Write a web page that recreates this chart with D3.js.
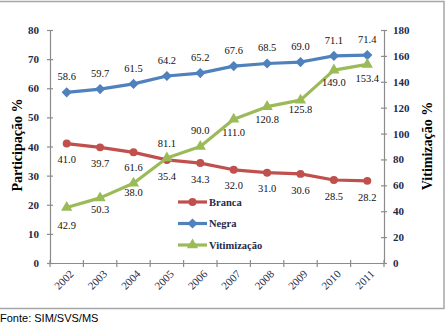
<!DOCTYPE html>
<html>
<head>
<meta charset="utf-8">
<script src="https://cdn.jsdelivr.net/npm/d3@7"></script>
<style>
  body { margin: 0; background: #fff; }
  svg { display: block; }
</style>
</head>
<body>
<div class="chart"></div>
<script>
const years = ["2002", "2003", "2004", "2005", "2006", "2007", "2008", "2009", "2010", "2011"];
const branca = [41.0, 39.7, 38.0, 35.4, 34.3, 32.0, 31.0, 30.6, 28.5, 28.2];
const negra = [58.6, 59.7, 61.5, 64.2, 65.2, 67.6, 68.5, 69.0, 71.1, 71.4];
const vitimizacao = [42.9, 50.3, 61.6, 81.1, 90.0, 111.0, 120.8, 125.8, 149.0, 153.4];
const leftTicks = [0, 10, 20, 30, 40, 50, 60, 70, 80];
const rightTicks = [0, 20, 40, 60, 80, 100, 120, 140, 160, 180];

// label offsets (layout only, as placed in the original)
const dyBranca = [16, 16, 40, 16, 16, 16, 16, 16, 16, 16];
const dyNegra = [-16, -16, -16, -16, -16, -16, -16, -16, -16, -16];
const dyVit = [18, 11, -16, -15, -16, 13, 13, 9, 12, 14];

var cfg = {
  width: 446,
  height: 328,
  left: 50, right: 384,
  top: 30, bottom: 263
};

var scale = {
  x: d3.scaleBand().domain(years).range([cfg.left, cfg.right]),
  yL: d3.scaleLinear().domain([0, 80]).range([cfg.bottom, cfg.top]),
  yR: d3.scaleLinear().domain([0, 180]).range([cfg.bottom, cfg.top])
};

const serif = "'Liberation Serif', 'Times New Roman', serif";
const tickColor = "#1f2a4a";

var svg = d3.select(".chart").append("svg")
  .attr("width", cfg.width)
  .attr("height", cfg.height);

// frame
svg.append("rect")
  .attr("x", -5).attr("y", 1.5)
  .attr("width", 449).attr("height", 307)
  .attr("fill", "none")
  .attr("stroke", "#a6a6a6")
  .attr("stroke-width", 1.5);

// left axis
var axL = svg.append("g")
  .attr("transform", `translate(${cfg.left},0)`)
  .call(d3.axisLeft(scale.yL).tickValues(leftTicks).tickSize(3).tickPadding(8));

// right axis
var axR = svg.append("g")
  .attr("transform", `translate(${cfg.right},0)`)
  .call(d3.axisRight(scale.yR).tickValues(rightTicks).tickSize(3).tickPadding(8));

// bottom axis
var axB = svg.append("g")
  .attr("transform", `translate(0,${cfg.bottom})`)
  .call(d3.axisBottom(scale.x).tickSize(0).tickFormat(""));

[axL, axR].forEach(ax => {
  ax.selectAll(".tick line").attr("x1", -3).attr("x2", 3);
});
axR.selectAll(".tick text").attr("x", 9);

[axL, axR, axB].forEach(ax => {
  ax.select(".domain").attr("stroke", "#8c8c8c").attr("stroke-width", 1.2);
  ax.selectAll(".tick line").attr("stroke", "#8c8c8c").attr("stroke-width", 1.2);
  ax.selectAll(".tick text")
    .attr("fill", tickColor)
    .style("font-family", serif)
    .style("font-size", "11px")
    .style("font-weight", "bold");
});

// bottom tick marks at band edges
var edges = years.map(d => scale.x(d)).concat([cfg.right]);
svg.append("g").selectAll("line")
  .data(edges)
  .enter().append("line")
  .attr("x1", d => d).attr("x2", d => d)
  .attr("y1", cfg.bottom - 3).attr("y2", cfg.bottom + 4)
  .attr("stroke", "#8c8c8c").attr("stroke-width", 1.2);

// rotated year labels
svg.append("g").selectAll("text")
  .data(years)
  .enter().append("text")
  .attr("transform", d => `translate(${scale.x(d) + scale.x.bandwidth() / 2 + 5},${cfg.bottom + 9}) rotate(-45)`)
  .attr("text-anchor", "end")
  .attr("dy", "0.35em")
  .attr("fill", tickColor)
  .style("font-family", serif)
  .style("font-size", "11px")
  .text(d => d);

// axis titles
svg.append("text")
  .attr("transform", `translate(22,145) rotate(-90)`)
  .attr("text-anchor", "middle")
  .style("font-family", serif)
  .style("font-size", "14px")
  .style("font-weight", "bold")
  .text("Participação %");

svg.append("text")
  .attr("transform", `translate(432,146) rotate(-90)`)
  .attr("text-anchor", "middle")
  .style("font-family", serif)
  .style("font-size", "14px")
  .style("font-weight", "bold")
  .text("Vitimização %");

var cx = d => scale.x(d) + scale.x.bandwidth() / 2;

var series = [
  { name: "Branca", values: branca, y: scale.yL, color: "#c0504d", symbol: d3.symbolCircle, size: 50, rot: 0, dy: dyBranca },
  { name: "Negra", values: negra, y: scale.yL, color: "#4f81bd", symbol: d3.symbolSquare, size: 52, rot: 45, dy: dyNegra },
  { name: "Vitimização", values: vitimizacao, y: scale.yR, color: "#9bbb59", symbol: d3.symbolTriangle, size: 55, rot: 0, dy: dyVit }
];

series.forEach(s => {
  var pts = years.map((yr, i) => [cx(yr), s.y(s.values[i])]);
  var g = svg.append("g");
  g.append("path")
    .attr("d", d3.line()(pts))
    .attr("fill", "none")
    .attr("stroke", s.color)
    .attr("stroke-width", 3.2)
    .attr("stroke-linejoin", "round");
  g.selectAll("path.mk")
    .data(pts)
    .enter().append("path")
    .attr("class", "mk")
    .attr("transform", d => `translate(${d[0]},${d[1]}) rotate(${s.rot})`)
    .attr("d", d3.symbol().type(s.symbol).size(s.size))
    .attr("fill", s.color);
});

// data labels on top
series.forEach(s => {
  svg.append("g").selectAll("text")
    .data(s.values)
    .enter().append("text")
    .attr("x", (d, i) => cx(years[i]))
    .attr("y", (d, i) => s.y(d) + s.dy[i])
    .attr("dy", "0.35em")
    .attr("text-anchor", "middle")
    .attr("fill", "#111")
    .style("font-family", serif)
    .style("font-size", "10.5px")
    .text(d => d.toFixed(1));
});

// legend
var legend = svg.append("g").attr("transform", "translate(178,202)");
series.forEach((s, i) => {
  var g = legend.append("g").attr("transform", `translate(0,${i * 21.5})`);
  g.append("line")
    .attr("x1", 0).attr("x2", 29)
    .attr("stroke", s.color).attr("stroke-width", 3.2);
  g.append("path")
    .attr("transform", `translate(14.5,0) rotate(${s.rot})`)
    .attr("d", d3.symbol().type(s.symbol).size(s.size))
    .attr("fill", s.color);
  g.append("text")
    .attr("x", 31)
    .attr("dy", "0.35em")
    .attr("fill", tickColor)
    .style("font-family", serif)
    .style("font-size", "10.5px")
    .style("font-weight", "bold")
    .text(s.name);
});

// source
svg.append("text")
  .attr("x", 0).attr("y", 322)
  .style("font-family", "'Liberation Sans', Arial, sans-serif")
  .style("font-size", "11px")
  .text("Fonte: SIM/SVS/MS");
</script>
</body>
</html>
